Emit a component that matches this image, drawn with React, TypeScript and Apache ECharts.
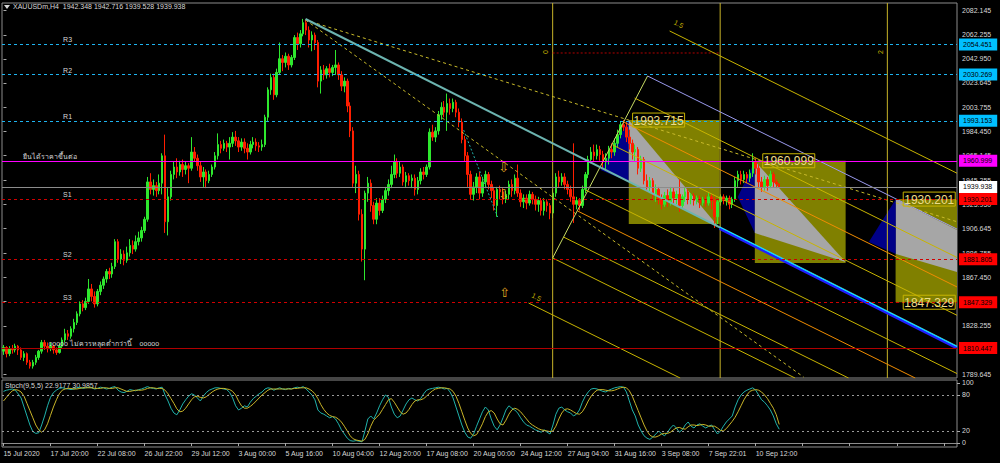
import React, { useEffect, useRef } from "react";
import * as echarts from "echarts";

// ---------------- data ----------------
const symbolName = "XAUUSDm,H4";
const stochParams = "9,5,5";
const dateLabels = [
  "15 Jul 2020", "17 Jul 20:00", "22 Jul 08:00", "26 Jul 22:00", "29 Jul 12:00", "3 Aug 00:00",
  "5 Aug 16:00", "10 Aug 04:00", "12 Aug 20:00", "17 Aug 08:00", "20 Aug 00:00", "24 Aug 12:00",
  "27 Aug 04:00", "31 Aug 16:00", "3 Sep 08:00", "7 Sep 22:01", "10 Sep 12:00",
];
const labelEvery = 16;
const futureSlots = 60;

// [open, close, low, high]
const ohlc: number[][] = [
  [1808,1811,1805,1813],[1811,1806,1803,1812],[1806,1810,1804,1812],[1810,1809,1806,1813],[1809,1812,1807,1814],
  [1812,1809,1805,1813],[1809,1803,1801,1811],[1803,1806,1800,1808],[1806,1799,1797,1807],[1799,1796,1794,1801],
  [1796,1799,1794,1801],[1799,1803,1797,1805],[1803,1808,1801,1809],[1808,1815,1806,1817],[1815,1812,1809,1817],
  [1812,1810,1807,1815],[1810,1812,1808,1815],[1812,1809,1806,1813],[1809,1807,1805,1811],[1807,1812,1806,1814],
  [1812,1817,1810,1819],[1817,1822,1815,1826],[1822,1820,1817,1825],[1820,1826,1818,1828],[1826,1831,1823,1834],
  [1831,1838,1829,1840],[1838,1846,1836,1848],[1846,1843,1840,1849],[1843,1848,1841,1851],[1848,1858,1846,1866],
  [1858,1852,1848,1862],[1852,1846,1843,1856],[1846,1856,1844,1858],[1856,1861,1853,1864],[1861,1866,1858,1868],
  [1866,1872,1863,1874],[1872,1870,1866,1875],[1870,1876,1867,1879],[1876,1896,1874,1898],[1896,1882,1879,1898],
  [1882,1886,1878,1890],[1886,1881,1877,1889],[1881,1887,1879,1892],[1887,1893,1884,1898],[1893,1890,1886,1897],
  [1890,1896,1888,1901],[1896,1899,1893,1904],[1899,1905,1896,1908],[1905,1914,1903,1916],[1914,1944,1912,1948],
  [1944,1938,1934,1951],[1938,1941,1933,1946],[1941,1937,1932,1944],[1937,1943,1934,1950],[1943,1965,1934,1967],
  [1965,1912,1903,1982],[1912,1932,1901,1939],[1932,1950,1929,1953],[1950,1956,1946,1960],[1956,1952,1947,1963],
  [1952,1958,1949,1961],[1958,1954,1948,1962],[1954,1957,1950,1960],[1957,1955,1943,1959],[1955,1968,1953,1980],
  [1968,1963,1960,1972],[1963,1957,1953,1966],[1957,1948,1944,1960],[1948,1952,1940,1956],[1952,1945,1939,1954],
  [1945,1950,1943,1953],[1950,1956,1948,1958],[1956,1965,1954,1968],[1965,1974,1962,1983],[1974,1971,1967,1977],
  [1971,1975,1969,1978],[1975,1972,1968,1977],[1972,1975,1962,1980],[1975,1980,1972,1984],[1980,1977,1973,1985],
  [1977,1972,1968,1980],[1972,1976,1969,1979],[1976,1971,1967,1979],[1971,1968,1962,1975],[1968,1974,1966,1977],
  [1974,1976,1971,1980],[1976,1973,1969,1979],[1973,1972,1968,1976],[1972,1974,1969,1978],[1974,1996,1972,1998],
  [1996,2018,1993,2020],[2018,2028,2014,2031],[2028,2014,2010,2031],[2014,2032,2012,2035],[2032,2043,2030,2056],
  [2043,2040,2033,2046],[2040,2045,2036,2048],[2045,2038,2034,2047],[2038,2044,2036,2046],[2044,2060,2042,2062],
  [2060,2055,2050,2064],[2055,2063,2052,2066],[2063,2072,2061,2075],[2072,2066,2062,2074],[2066,2058,2052,2069],
  [2058,2062,2049,2065],[2062,2056,2050,2064],[2056,2025,2020,2058],[2025,2034,2015,2037],[2034,2030,2026,2038],
  [2030,2035,2027,2037],[2035,2032,2028,2039],[2032,2036,2029,2038],[2036,2038,2030,2050],[2038,2030,2026,2040],
  [2030,2021,2017,2033],[2021,2025,2016,2028],[2025,2005,2000,2027],[2005,1985,1980,2008],[1985,1943,1940,1988],
  [1943,1950,1935,1957],[1950,1918,1913,1953],[1918,1890,1880,1922],[1890,1935,1865,1937],[1935,1943,1928,1948],
  [1943,1925,1920,1946],[1925,1914,1910,1928],[1914,1927,1910,1931],[1927,1921,1917,1931],[1921,1930,1919,1933],
  [1930,1937,1927,1940],[1937,1942,1933,1946],[1942,1950,1939,1957],[1950,1960,1947,1966],[1960,1951,1947,1963],
  [1951,1956,1948,1960],[1956,1944,1941,1958],[1944,1949,1940,1952],[1949,1945,1941,1951],[1945,1947,1939,1950],
  [1947,1938,1933,1950],[1938,1945,1934,1948],[1945,1952,1942,1955],[1952,1950,1946,1956],[1950,1956,1948,1958],
  [1956,1984,1954,1987],[1984,1980,1977,1990],[1980,1985,1976,1988],[1985,1998,1982,2001],[1998,2004,1994,2008],
  [2004,2000,1996,2009],[2000,2007,1985,2015],[2007,2003,1998,2011],[2003,2008,2000,2011],[2008,2000,1996,2010],
  [2000,1992,1988,2003],[1992,1978,1975,1995],[1978,1965,1960,1981],[1965,1950,1940,1968],[1950,1934,1930,1953],
  [1934,1940,1929,1944],[1940,1948,1935,1951],[1948,1935,1930,1952],[1935,1944,1932,1948],[1944,1950,1939,1953],
  [1950,1942,1938,1952],[1942,1937,1931,1945],[1937,1925,1921,1940],[1925,1938,1916,1940],[1938,1936,1930,1941],
  [1936,1930,1926,1939],[1930,1934,1927,1937],[1934,1942,1930,1945],[1942,1937,1932,1946],[1937,1947,1934,1950],
  [1947,1935,1932,1958],[1935,1928,1924,1938],[1928,1931,1923,1934],[1931,1927,1922,1934],[1927,1934,1925,1937],
  [1934,1930,1926,1936],[1930,1926,1921,1933],[1926,1929,1920,1932],[1929,1921,1917,1931],[1921,1928,1917,1931],
  [1928,1925,1920,1930],[1925,1919,1914,1927],[1919,1935,1915,1938],[1935,1948,1932,1951],[1948,1944,1940,1953],
  [1944,1948,1941,1951],[1948,1942,1938,1951],[1942,1938,1934,1945],[1938,1932,1928,1941],[1932,1926,1911,1975],
  [1926,1929,1922,1932],[1929,1925,1921,1931],[1925,1938,1923,1941],[1938,1950,1935,1952],[1950,1962,1947,1965],
  [1962,1968,1959,1972],[1968,1965,1960,1974],[1965,1970,1962,1974],[1970,1966,1961,1973],[1966,1960,1955,1969],
  [1960,1963,1953,1967],[1963,1970,1958,1973],[1970,1968,1963,1975],[1968,1975,1965,1979],[1975,1982,1972,1986],
  [1982,1990,1979,1993],[1990,1988,1985,1993.715],[1988,1980,1976,1992],[1980,1975,1970,1986],[1975,1968,1962,1978],
  [1968,1970,1960,1974],[1970,1955,1950,1972],[1955,1962,1952,1965],[1962,1945,1942,1964],[1945,1940,1936,1950],
  [1940,1945,1935,1948],[1945,1933,1929,1947],[1933,1938,1928,1942],[1938,1930,1926,1940],[1930,1926,1922,1934],
  [1926,1933,1924,1936],[1933,1928,1924,1938],[1928,1936,1925,1940],[1936,1931,1926,1939],[1931,1934,1926,1937],
  [1934,1925,1920,1946],[1925,1932,1922,1934],[1932,1936,1928,1939],[1936,1930,1926,1938],[1930,1933,1926,1935],
  [1933,1929,1925,1935],[1929,1931,1926,1933],[1931,1927,1923,1933],[1927,1930,1925,1932],[1930,1927,1924,1933],
  [1927,1932,1925,1935],[1932,1929,1922,1934],[1929,1916,1907,1932],[1916,1928,1910,1930],[1928,1932,1925,1934],
  [1932,1929,1926,1934],[1929,1931,1925,1933],[1931,1926,1922,1933],[1926,1930,1923,1932],[1930,1945,1928,1948],
  [1945,1950,1940,1953],[1950,1946,1942,1953],[1946,1950,1943,1953],[1950,1947,1943,1952],[1947,1951,1944,1954],
  [1951,1960,1948,1967],[1960,1955,1950,1963],[1955,1944,1939,1958],[1944,1940,1936,1948],[1940,1946,1937,1949],
  [1946,1941,1937,1948],[1941,1950,1939,1953],[1950,1944,1940,1952],[1944,1942.348,1939,1946],[1942.348,1939.938,1939.528,1942.716],
];

const stochK = [
  86,88,89,90,88,82,75,60,45,30, 19,16,17,30,45,62,76,84,88,91,
  92,91,90,89,90,92,93,91,92,93, 92,90,91,93,92,90,91,93,94,88,
  85,84,86,89,88,87,89,90,92,94, 92,91,90,92,93,80,70,58,50,47,
  55,65,72,78,82,80,75,70,78,84, 88,90,92,92,91,90,89,84,75,62,
  55,58,62,60,68,74,78,82,85,90, 92,91,88,90,92,90,89,91,90,92,
  93,92,94,90,85,80,72,55,50,48, 45,42,44,40,32,22,15,8,4,3,
  4,3,2,20,40,45,40,50,62,72, 80,76,60,48,42,45,55,65,72,75,
  72,70,74,82,88,90,91,92,93,92, 90,91,85,75,60,45,30,18,10,8,
  15,28,40,52,60,55,40,28,22,30, 42,55,62,58,55,50,42,35,30,28,
  25,22,20,18,22,18,15,30,48,58, 60,55,52,50,45,48,55,68,78,85,
  90,91,90,88,86,85,88,90,92,93, 94,93,85,70,55,45,30,20,12,8,
  6,10,15,20,15,12,18,25,30,25, 18,22,30,35,28,25,30,32,28,25,
  28,30,22,15,20,28,35,40,45,60, 72,80,85,88,90,92,88,80,72,68,
  62,55,45,32,22.9177,
];
const stochD = [
  70,76,82,87,89,88,85,78,66,54, 42,30,22,18,22,32,46,60,72,82,
  88,90,91,91,90,90,91,92,92,92, 92,91,91,91,92,92,91,91,92,92,
  90,88,86,86,87,88,88,88,89,91, 92,92,91,91,91,88,82,74,66,57,
  52,53,58,65,72,77,78,76,75,77, 81,85,88,90,91,91,90,89,86,80,
  70,62,58,58,61,65,70,75,80,84, 88,90,90,90,90,90,90,90,90,91,
  91,92,92,92,90,87,82,74,64,56, 50,46,44,43,40,35,28,20,12,7,
  5,4,3,6,15,28,38,43,48,56, 64,72,74,68,60,52,48,50,56,64,
  70,72,72,74,78,83,87,90,91,92, 92,91,90,86,78,66,52,38,25,16,
  12,14,22,32,44,52,54,50,40,32, 30,38,48,55,58,56,52,46,40,34,
  30,27,24,22,21,20,19,20,28,40, 50,56,57,55,52,49,48,52,60,70,
  78,84,88,89,89,88,87,87,88,90, 92,93,92,87,78,66,54,42,30,20,
  13,10,10,12,15,16,16,18,22,25, 26,24,23,27,30,30,29,30,31,30,
  28,28,28,25,21,20,24,30,36,43, 52,62,72,80,86,88,89,88,85,80,
  74,66,58,47,30.9857,
];

const priceTicks = [
  2082.145, 2062.255, 2042.95, 2023.645, 2003.755, 1984.45, 1965.145, 1945.255,
  1925.95, 1906.645, 1886.755, 1867.45, 1848.145, 1828.255, 1808.95, 1789.645,
];
const stochTicks = [0, 20, 80, 100];
const stochLevels = [20, 80];

// horizontal levels
const levelPrices = [2054.451, 2030.269, 1993.153, 1960.999, 1939.938, 1930.201, 1881.805, 1847.329, 1810.447];
const levelKinds = ["pivotR", "pivotR", "pivotR", "breakout", "bid", "pivotS", "pivotS", "pivotS", "floor"];
const levelNotes = ["R3", "R2", "R1", "ยืนได้ราคาขึ้นต่อ", "", "S1", "S2", "S3", "ooooo ไม่ควรหลุดต่ำกว่านี้    ooooo"];

// drawn lines: [bar1, price1, bar2, price2, kind]
const trendLines: [number, number, number, number, string][] = [
  [102.8, 2074.1, 324.5, 1912.0, "fanDash"],
  [102.8, 2074.1, 272.3, 1787.2, "fanDash"],
  [156.6, 1985.7, 168.2, 1915.8, "tealDot"],
  [186.9, 2047.6, 243.9, 2047.6, "redDot"],
  [186.9, 1882.9, 219.2, 2029.1, "pitch"],
  [226.7, 2065.3, 324.5, 1951.0, "fib"],
  [219.2, 2029.1, 324.5, 1906.1, "fibBase"],
  [214.8, 2011.4, 324.5, 1883.3, "fib"],
  [211.1, 1992.1, 324.5, 1859.6, "fibOrange"],
  [207.3, 1973.7, 324.5, 1836.8, "fib"],
  [198.1, 1937.5, 324.5, 1790.0, "fib"],
  [195.4, 1920.6, 310.3, 1786.4, "fibOrange"],
  [190.6, 1899.7, 287.6, 1786.4, "fib"],
  [186.9, 1882.9, 269.4, 1786.4, "fib"],
  [178.7, 1846.7, 230.3, 1786.4, "fib"],
  [102.8, 2074.9, 324.5, 1811.7, "trend"],
  [243.7, 1906.6, 324.5, 1810.6, "trendBlue"],
  [243.7, 1907.7, 324.5, 1811.7, "trendCyan"],
];
const timeLines = [186.9, 243.9, 300.8];

// boxes: [bar1, bar2, priceTop, priceBottom]
const zones = [
  [212.8, 243.7, 1993.715, 1910.2],
  [255.7, 286.6, 1960.999, 1878.8],
  [303.6, 324.5, 1930.201, 1847.329],
];
const bullLegs = [
  [[203.2, 1953.6], [212.8, 1993.7], [212.8, 1944.1]],
  [[249.9, 1931.9], [255.7, 1960.8], [255.7, 1902.9]],
  [[294.5, 1895.7], [303.7, 1930.2], [303.7, 1886.1]],
];
const dropLegs = [
  [[212.8, 1993.7], [243.4, 1907.8], [212.8, 1944.1]],
  [[255.7, 1960.8], [286.6, 1879.6], [255.7, 1902.9]],
  [[303.7, 1930.2], [324.5, 1905.4], [324.5, 1871.6], [303.7, 1886.1]],
];
const pivotTags = [
  [214.1, 1993.715],
  [258.4, 1960.999],
  [306.2, 1930.201],
  [306.2, 1847.329],
];
const arrowMarks: [number, number, string][] = [
  [170.2, 1955.2, "down"],
  [170.2, 1933.5, "down"],
  [170.6, 1854.8, "up"],
];
const fibNotes: [number, number, string, string][] = [
  [184.5, 2048.4, "0", "vertical"],
  [298.6, 2048.4, "2", "vertical"],
  [229.8, 2070.9, "1.5", "slant"],
  [181.4, 1851.5, "1.5", "slant"],
];

// ---------------- styles ----------------
const FONT = "Liberation Sans, Arial, sans-serif";
const TEXT = "#D8D8D8";
const FRAME = "#8C8C8C";
const PRICE_MIN = 1786.44;
const PRICE_MAX = 2087.77;

const LEVEL_STYLE: Record<string, any> = {
  pivotR: { color: "#1EB4F0", type: [3, 3], tag: "#00BFFF", noteBar: 20.3 },
  breakout: { color: "#FF00FF", type: "solid", tag: "#FF00FF", noteBar: 6.8 },
  bid: { color: "#8C8C8C", type: "solid", tag: "#FFFFFF", noteBar: 0 },
  pivotS: { color: "#D00000", type: [3, 3], tag: "#FF0000", noteBar: 20.3 },
  floor: { color: "#B00000", type: "solid", tag: "#FF0000", noteBar: 15.3 },
};
const LINE_STYLE: Record<string, any> = {
  trend: { color: "#6CB4B0", width: 2, type: "solid" },
  trendBlue: { color: "#2020FF", width: 3, type: "solid" },
  trendCyan: { color: "#00FFFF", width: 1, type: "solid" },
  fanDash: { color: "#C8BA2A", width: 1, type: [3, 3] },
  tealDot: { color: "#20B2AA", width: 1, type: [2, 2] },
  pitch: { color: "#C8DC64", width: 1, type: "solid" },
  fib: { color: "#C8B400", width: 1, type: "solid" },
  fibOrange: { color: "#F08C00", width: 1, type: "solid" },
  fibBase: { color: "#9A9AEE", width: 1, type: "solid" },
  redDot: { color: "#B00000", width: 1, type: [2, 2] },
  time: { color: "#C8B428", width: 1, type: "solid" },
};
const NOTE_ROT: Record<string, number> = { vertical: Math.PI / 2, slant: -0.46 };

function buildOption() {
  const N = ohlc.length + futureSlots;
  const cats = Array.from({ length: N }, (_, i) => String(i));
  const last = ohlc[ohlc.length - 1];
  const header = `${symbolName}  ${last[0].toFixed(3)} ${last[3].toFixed(3)} ${last[2].toFixed(3)} ${last[1].toFixed(3)}`;
  const stochHeader = `Stoch(${stochParams}) ${stochK[stochK.length - 1].toFixed(4)} ${stochD[stochD.length - 1].toFixed(4)}`;

  const levelMarks = levelPrices.map((p, i) => {
    const st = LEVEL_STYLE[levelKinds[i]];
    return {
      yAxis: p,
      lineStyle: { color: st.color, type: st.type, width: 1 },
      label: {
        show: true, position: "end", distance: 2, formatter: p.toFixed(3),
        backgroundColor: st.tag, color: "#000", fontSize: 7, fontFamily: FONT,
        padding: [2, 5, 1, 4], lineHeight: 9,
      },
    };
  });

  const shapes = [
    ...zones.map(([x1, x2, p1, p2]) => ({ pts: [[x1, p1], [x2, p1], [x2, p2], [x1, p2]], fill: "#808000" })),
    ...bullLegs.map((pts) => ({ pts, fill: "#000088" })),
    ...dropLegs.map((pts) => ({ pts, fill: "#A6A6A6" })),
  ];

  const notes: any[] = [
    ...levelNotes
      .map((t, i) => ({ x: LEVEL_STYLE[levelKinds[i]].noteBar, y: levelPrices[i], text: t, kind: "level" }))
      .filter((n) => n.text),
    ...arrowMarks.map(([x, y, d]) => ({ x, y, text: d === "down" ? "⇩" : "⇧", kind: "arrow" })),
    ...fibNotes.map(([x, y, t, r]) => ({ x, y, text: t, kind: "fib", rot: NOTE_ROT[r] })),
  ];

  const lineSeries = trendLines.map(([x1, p1, x2, p2, kind]) => ({
    type: "line", xAxisIndex: 1, yAxisIndex: 0, data: [[x1, p1], [x2, p2]],
    symbol: "none", showSymbol: false, silent: true, z: 3, clip: true,
    lineStyle: LINE_STYLE[kind],
  }));
  const timeSeries = timeLines.map((t) => ({
    type: "line", xAxisIndex: 1, yAxisIndex: 0, data: [[t, PRICE_MIN], [t, PRICE_MAX]],
    symbol: "none", showSymbol: false, silent: true, z: 3, lineStyle: LINE_STYLE.time,
  }));

  return {
    animation: false,
    backgroundColor: "#000",
    graphic: [
      { type: "polygon", shape: { points: [[4, 5], [10, 5], [7, 9]] }, style: { fill: TEXT } },
      { type: "text", x: 13, y: 3, style: { text: header, fill: TEXT, fontSize: 7, fontFamily: FONT } },
      { type: "text", x: 5, y: 382, style: { text: stochHeader, fill: TEXT, fontSize: 7, fontFamily: FONT } },
    ],
    grid: [
      { left: 2, top: 3, width: 955, height: 375, show: true, borderColor: FRAME, borderWidth: 1, containLabel: false, outerBoundsMode: "none" },
      { left: 2, top: 380, width: 955, height: 67, show: true, borderColor: FRAME, borderWidth: 1, containLabel: false, outerBoundsMode: "none" },
    ],
    xAxis: [
      { type: "category", gridIndex: 0, data: cats, boundaryGap: true, show: false },
      { type: "value", gridIndex: 0, min: -0.5, max: N - 0.5, show: false },
      {
        type: "category", gridIndex: 1, data: cats, boundaryGap: true,
        axisLine: { show: true, lineStyle: { color: FRAME } },
        axisTick: { show: true, alignWithLabel: true, interval: labelEvery - 1, length: 3, lineStyle: { color: "#AAAAAA" } },
        axisLabel: {
          interval: labelEvery - 1, align: "left", color: TEXT, fontSize: 7, fontFamily: FONT, margin: 3,
          formatter: (_v: string, i: number) => (i % labelEvery === 0 ? dateLabels[i / labelEvery] ?? "" : ""),
        },
        splitLine: { show: false },
      },
    ],
    yAxis: [
      {
        type: "value", gridIndex: 0, position: "right", min: PRICE_MIN, max: PRICE_MAX,
        splitLine: { show: false }, axisLine: { show: false },
        axisTick: { show: true, length: 3, customValues: priceTicks, lineStyle: { color: "#AAAAAA" } },
        axisLabel: { customValues: priceTicks, formatter: (v: number) => v.toFixed(3), color: TEXT, fontSize: 7, fontFamily: FONT, margin: 5 },
      },
      {
        type: "value", gridIndex: 1, position: "right", min: -6.67, max: 105,
        splitLine: { show: false }, axisLine: { show: false },
        axisTick: { show: true, length: 3, customValues: stochTicks, lineStyle: { color: "#AAAAAA" } },
        axisLabel: { customValues: stochTicks, formatter: (v: number) => String(v), color: TEXT, fontSize: 7, fontFamily: FONT, margin: 5 },
      },
    ],
    series: [
      {
        type: "custom", xAxisIndex: 1, yAxisIndex: 0, z: 1, silent: true, clip: true,
        data: shapes.map((s) => s.pts[0]),
        renderItem: (params: any, api: any) => {
          const s = shapes[params.dataIndex];
          return { type: "polygon", shape: { points: s.pts.map((p: number[]) => api.coord(p)) }, style: { fill: s.fill } };
        },
      },
      {
        type: "candlestick", xAxisIndex: 0, yAxisIndex: 0, data: ohlc, barWidth: 2, z: 2, silent: true,
        itemStyle: { color: "#2EE82E", color0: "#FF1E00", borderColor: "#2EE82E", borderColor0: "#FF1E00", borderWidth: 1 },
        markLine: { silent: true, symbol: ["none", "none"], animation: false, data: levelMarks },
      },
      ...timeSeries,
      ...lineSeries,
      {
        type: "custom", xAxisIndex: 1, yAxisIndex: 0, z: 5, silent: true, clip: false,
        data: pivotTags,
        renderItem: (params: any, api: any) => {
          const [bar, price] = pivotTags[params.dataIndex];
          const [px, py] = api.coord([bar, price]);
          return {
            type: "group",
            children: [
              { type: "rect", shape: { x: px, y: py - 7, width: 52, height: 14 }, style: { fill: "rgba(0,0,0,0)", stroke: "#C8B400", lineWidth: 1 } },
              { type: "text", x: px + 1, y: py + 0.5, style: { text: price.toFixed(3), fill: "#EEDD88", fontSize: 12, fontFamily: FONT, align: "left", verticalAlign: "middle" } },
            ],
          };
        },
      },
      {
        type: "custom", xAxisIndex: 1, yAxisIndex: 0, z: 5, silent: true,
        data: notes.map((n) => [n.x, n.y]),
        renderItem: (params: any, api: any) => {
          const n = notes[params.dataIndex];
          const [px, py] = api.coord([n.x, n.y]);
          if (n.kind === "level") {
            return { type: "text", x: px, y: py - 1, style: { text: n.text, fill: TEXT, fontSize: 7, fontFamily: "Liberation Sans, Noto Sans, DejaVu Sans, sans-serif", align: "left", verticalAlign: "bottom" } };
          }
          if (n.kind === "arrow") {
            return { type: "text", x: px, y: py, style: { text: n.text, fill: "#E0A820", fontSize: 13, fontFamily: "DejaVu Sans", align: "center", verticalAlign: "middle" } };
          }
          return { type: "text", x: px, y: py, rotation: n.rot, style: { text: n.text, fill: "#C8B400", fontSize: 7, fontFamily: FONT, align: "center", verticalAlign: "middle" } };
        },
      },
      {
        type: "line", xAxisIndex: 2, yAxisIndex: 1, data: stochK, symbol: "none", showSymbol: false, silent: true,
        lineStyle: { color: "#20B2AA", width: 1 },
        markLine: {
          silent: true, symbol: ["none", "none"], animation: false, label: { show: false },
          lineStyle: { color: "#9A9A9A", type: [2, 3], width: 1 },
          data: stochLevels.map((v) => ({ yAxis: v })),
        },
      },
      {
        type: "line", xAxisIndex: 2, yAxisIndex: 1, data: stochD, symbol: "none", showSymbol: false, silent: true,
        lineStyle: { color: "#C8B428", width: 1 },
      },
    ],
  };
}

export default function App() {
  const ref = useRef<HTMLDivElement>(null);
  useEffect(() => {
    const chart = echarts.init(ref.current as HTMLDivElement, null, { renderer: "svg" });
    chart.setOption(buildOption() as any);
    return () => chart.dispose();
  }, []);
  return (
    <div style={{ position: "fixed", left: 0, top: 0, width: 1000, height: 463, background: "#000" }}>
      <div ref={ref} style={{ width: 1000, height: 463 }} />
    </div>
  );
}
